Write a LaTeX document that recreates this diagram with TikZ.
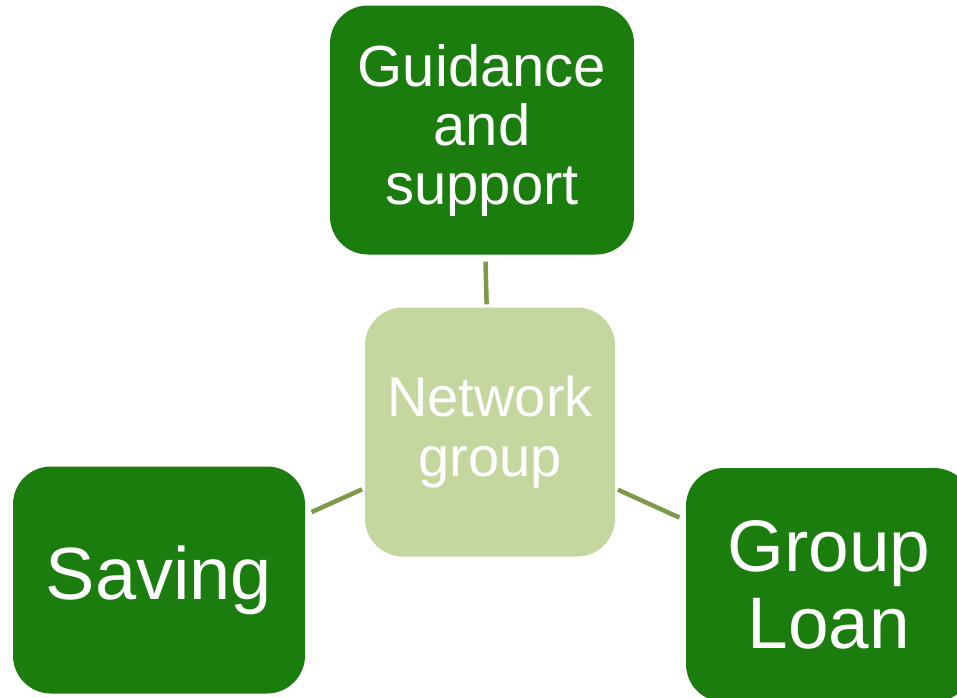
\documentclass[tikz,border=0pt]{standalone}
\usepackage{fontspec}
\setmainfont{Liberation Sans}
\usetikzlibrary{positioning}
\definecolor{darkleaf}{HTML}{1A7D0E}
\definecolor{paleleaf}{HTML}{C4D79F}
\definecolor{linkolive}{HTML}{7C9A4A}
\tikzset{
  outerbox/.style={fill=darkleaf, text=white, rounded corners=38, align=center, inner sep=0pt},
  hubbox/.style={fill=paleleaf, text=white, rounded corners=38, align=center, inner sep=0pt,
    minimum width=250, minimum height=249},
  link/.style={draw=linkolive, line width=4.5, shorten <=3, shorten >=7}
}
\begin{document}
\begin{tikzpicture}[x=1pt,y=1pt,yscale=-1,xscale=1]
\useasboundingbox (0,0) rectangle (957,697);
\clip (0,0) rectangle (957,697);
\fill[white] (0,0) rectangle (957,697);

% Hub
\node[hubbox, font=\fontsize{56}{60}\selectfont] (hub) at (490,432) {Network\\group};
% Outer boxes
\node[outerbox, minimum width=304, minimum height=249, font=\fontsize{58}{59}\selectfont] (guide) at (482,130) {Guidance\\and\\support};
\node[outerbox, minimum width=292, minimum height=227, font=\fontsize{74}{74}\selectfont] (saving) at (159,580) {\raisebox{-4pt}{Saving}};
\node[outerbox, minimum width=286, minimum height=234, font=\fontsize{73}{77}\selectfont] (loan) at (829,585) {Group\\Loan};

% Links
\draw[link] (hub) -- (guide);
\draw[link] (hub) -- (saving);
\draw[link] (hub) -- (loan);
\end{tikzpicture}
\end{document}
